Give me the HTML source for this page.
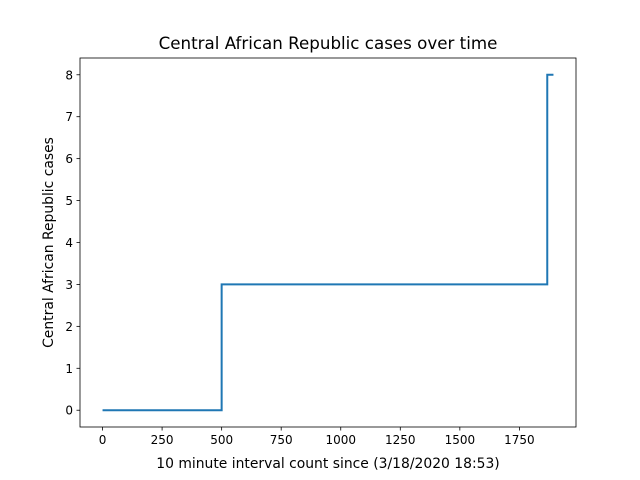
<!DOCTYPE html>
<html><head><meta charset="utf-8"><style>
body{margin:0;background:#fff;}
svg{display:block;font-family:"DejaVu Sans","Liberation Sans",sans-serif;}
</style></head><body>
<svg id="chart" width="640" height="480">
<rect width="640" height="480" fill="#fff"/>
<text x="328" y="49" text-anchor="middle" font-size="16.7">Central African Republic cases over time</text>
<g id="plot"></g>
<rect x="80" y="58" width="496" height="369" fill="none" stroke="#000" stroke-width="0.8"/>
<text x="328" y="468" text-anchor="middle" font-size="13.9">10 minute interval count since (3/18/2020 18:53)</text>
<text transform="translate(53,242.5) rotate(-90)" text-anchor="middle" font-size="13.9">Central African Republic cases</text>
</svg>
<script>
const xValues = [0, 500, 500, 1867, 1867, 1893];
const yValues = [0, 0, 3, 3, 8, 8];
const xTicks = [0, 250, 500, 750, 1000, 1250, 1500, 1750];
const yTicks = [0, 1, 2, 3, 4, 5, 6, 7, 8];

const L=80,R=576,T=58,B=427;
const xmin=-94.65,xmax=1987.65,ymin=-0.4,ymax=8.4;
const sx=v=>L+(v-xmin)/(xmax-xmin)*(R-L);
const sy=v=>B-(v-ymin)/(ymax-ymin)*(B-T);
const g=document.getElementById('plot');
const NS='http://www.w3.org/2000/svg';
function mk(t,a){const e=document.createElementNS(NS,t);for(const k in a)e.setAttribute(k,a[k]);g.appendChild(e);return e;}
xTicks.forEach(v=>{
  const l=mk('line',{x1:sx(v),x2:sx(v),y1:B,y2:B+3.5,stroke:'#000','stroke-width':0.8});
  
  
  const t=mk('text',{x:sx(v),y:B+17,'text-anchor':'middle','font-size':12});
  t.textContent=v;
  
  
});
yTicks.forEach(v=>{
  const l=mk('line',{x1:L-3.5,x2:L,y1:sy(v),y2:sy(v),stroke:'#000','stroke-width':0.8});
  
  
  const t=mk('text',{x:L-7,y:sy(v)+4.5,'text-anchor':'end','font-size':12});
  t.textContent=v;
  
  
});
const p=mk('polyline',{points:xValues.map((x,i)=>sx(x)+','+sy(yValues[i])).join(' '),fill:'none',stroke:'#1f77b4','stroke-width':2});


</script>
</body></html>
